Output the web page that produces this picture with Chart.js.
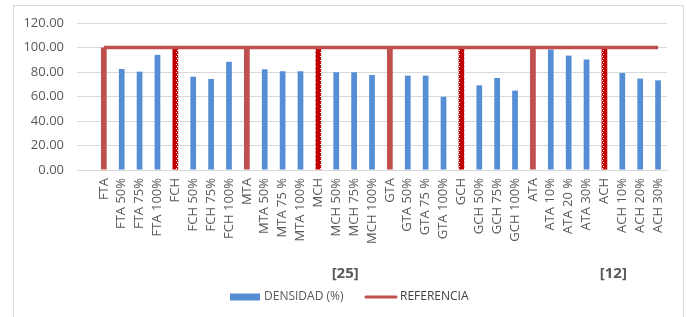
<!DOCTYPE html>
<html>
<head>
<meta charset="utf-8">
<script src="https://cdn.jsdelivr.net/npm/chart.js@4/dist/chart.umd.min.js"></script>
<style>
  html, body { margin: 0; padding: 0; background: #fff; }
  #wrap { position: relative; width: 687px; height: 317px; }
</style>
</head>
<body>
<div id="wrap"><canvas id="densidadChart" width="687" height="317"></canvas></div>
<script>
/* ===============================
   DATA
   =============================== */
const categories = [
  "", "FTA", "FTA 50%", "FTA 75%", "FTA 100%",
  "FCH", "FCH 50%", "FCH 75%", "FCH 100%",
  "MTA", "MTA 50%", "MTA 75 %", "MTA 100%",
  "MCH", "MCH 50%", "MCH 75%", "MCH 100%",
  "GTA", "GTA 50%", "GTA 75 %", "GTA 100%",
  "GCH", "GCH 50%", "GCH 75%", "GCH 100%",
  "ATA", "ATA 10%", "ATA 20 %", "ATA 30%",
  "ACH", "ACH 10%", "ACH 20%", "ACH 30%"
];

const densidad = [
  null, 100, 82.5, 80.3, 94.0,
  100, 76.2, 74.3, 88.3,
  100, 82.2, 80.6, 80.6,
  100, 79.8, 79.8, 77.6,
  100, 77.0, 77.0, 59.8,
  100, 69.1, 75.1, 64.8,
  100, 98.4, 93.4, 90.2,
  100, 79.2, 74.6, 73.2
];

const referencia = [
  null, 100, 100, 100, 100,
  100, 100, 100, 100,
  100, 100, 100, 100,
  100, 100, 100, 100,
  100, 100, 100, 100,
  100, 100, 100, 100,
  100, 100, 100, 100,
  100, 100, 100, 100
];

const yTicks = [0, 20, 40, 60, 80, 100, 120];

// source notes placed under the groups (between two category indexes)
const noteLabels = ["[25]", "[12]"];
const notePositions = [14.5, 29.5];

/* ===============================
   STYLE HELPERS
   =============================== */
const BLUE = "#558ED5";
const RED = "#C0504D";
const DARK_RED = "#C00000";
const TEXT = "#595959";
const FONT = "'Open Sans', 'Liberation Sans', sans-serif";

function dottedPattern() {
  const c = document.createElement("canvas");
  c.width = 6;
  c.height = 4;
  const g = c.getContext("2d");
  g.fillStyle = DARK_RED;
  g.fillRect(0, 0, 6, 4);
  g.fillStyle = "#ffffff";
  g.fillRect(2, 0, 1, 1);
  g.fillRect(3, 2, 1, 1);
  return g.createPattern(c, "repeat");
}

const pattern = dottedPattern();

function barColor(label) {
  if (!label || label.includes(" ")) return BLUE;
  return label.endsWith("CH") ? pattern : RED;
}

/* ===============================
   LEGEND + NOTES + FRAME
   =============================== */
const decorations = {
  id: "decorations",
  beforeDraw(chart) {
    const ctx = chart.ctx;
    ctx.save();
    ctx.strokeStyle = "#D9D9D9";
    ctx.lineWidth = 1;
    ctx.strokeRect(13.5, 5.5, 670, 330);
    ctx.restore();
  },
  afterDraw(chart) {
    const ctx = chart.ctx;
    const x = chart.scales.x;
    ctx.save();

    // notes
    ctx.font = "bold 15px " + FONT;
    ctx.fillStyle = TEXT;
    ctx.textAlign = "center";
    ctx.textBaseline = "middle";
    noteLabels.forEach((t, i) => {
      ctx.fillText(t, x.getPixelForValue(notePositions[i]), 274);
    });

    // legend
    const ly = 297;
    ctx.fillStyle = BLUE;
    ctx.fillRect(230, ly - 3.5, 30, 7);
    ctx.font = "12px " + FONT;
    ctx.textAlign = "left";
    ctx.fillStyle = TEXT;
    ctx.fillText("DENSIDAD (%)", 264, ly);

    ctx.strokeStyle = RED;
    ctx.lineWidth = 3;
    ctx.lineCap = "round";
    ctx.beginPath();
    ctx.moveTo(366, ly);
    ctx.lineTo(396, ly);
    ctx.stroke();
    ctx.fillStyle = "#404040";
    ctx.fillText("REFERENCIA", 400, ly);

    ctx.restore();
  }
};

/* ===============================
   CHART
   =============================== */
new Chart(document.getElementById("densidadChart").getContext("2d"), {
  data: {
    labels: categories,
    datasets: [
      {
        type: "line",
        label: "REFERENCIA",
        data: referencia,
        borderColor: RED,
        borderWidth: 3.5,
        pointRadius: 0,
        tension: 0,
        order: 0
      },
      {
        type: "bar",
        label: "DENSIDAD (%)",
        data: densidad,
        backgroundColor: categories.map(barColor),
        barPercentage: 0.32,
        categoryPercentage: 1,
        order: 1
      }
    ]
  },
  options: {
    responsive: false,
    animation: false,
    layout: { padding: { left: 14, right: 20, top: 23, bottom: 0 } },
    plugins: {
      legend: { display: false },
      tooltip: { enabled: false }
    },
    scales: {
      x: {
        grid: { display: false, drawTicks: false },
        border: { display: true, color: "#D9D9D9" },
        ticks: {
          autoSkip: false,
          minRotation: 90,
          maxRotation: 90,
          padding: 8,
          color: TEXT,
          font: { family: FONT, size: 13 }
        },
        afterFit: s => { s.height = 147; }
      },
      y: {
        min: 0,
        max: 120,
        afterBuildTicks: s => { s.ticks = yTicks.map(v => ({ value: v })); },
        grid: { color: "#D9D9D9", drawTicks: false },
        border: { display: false },
        ticks: {
          padding: 13,
          color: TEXT,
          font: { family: FONT, size: 13 },
          callback: v => v.toFixed(2)
        },
        afterFit: s => { s.width = 63; }
      }
    }
  },
  plugins: [decorations]
});
</script>
</body>
</html>
